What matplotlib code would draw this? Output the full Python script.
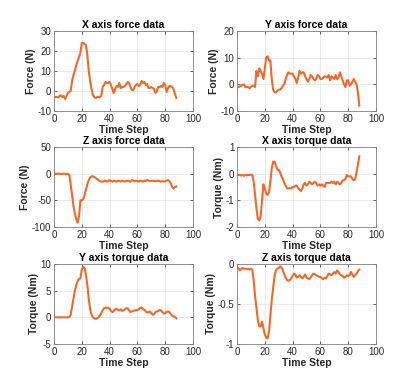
import matplotlib
matplotlib.use("Agg")
import matplotlib.pyplot as plt
import numpy as np

time_step = list(range(1, 89))

x_force = [-3, -3, -3.2, -2.5, -2.2, -3, -2.5, -4, -2.5, -1, -0.5, 0, 5, 8, 10, 13, 15, 17, 19, 24,
           24, 23.5, 23, 18, 10, 5, 1, -2, -3, -3.5, -3, -3, -3, -2.5, 2, 3, 4.5, 4, 4, 4.5,
           3, 1, -1, 1, 2.5, 2, 4, 1.5, 2, 2, 2.5, 3.5, 4.5, 4, 2, 0.5, 0.5, 2, 3, 3.5,
           2.5, 3, 5, 4, 4.5, 3, 3.5, 1.5, 1.5, 2, 1.5, 1, -1, 0, 2, 2, 2.5, 2, 4, 3,
           -0.5, 1.5, 2.5, 2.5, 2, 1, -1.5, -3.5]

y_force = [-1, -0.8, -0.5, -0.3, 0, -1, -1, -1, -1.5, -1, -0.5, -0.5, -1, 5, 3, 6, 5, 4, 2, 6,
           10, 10.5, 9, 9, 2, -2, -3, -3, -2.5, -2, -2, -1.5, -0.5, 0, 2, 3.5, 4.5, 4, 4, 4,
           3, 2, 0.5, 2.5, 5, 4, 4.5, 4.5, 3, 2, 1, 2, 3.5, 3, 2, 1.5, 2, 3.5, 3, 2,
           2, 2.5, 3, 3, 2.5, 3.5, 1.5, 3, 2.5, 2, 3.5, 2, 2.5, 4.5, 3, 1.5, 0, -1, 1.5, 1.5,
           -0.5, 0, 1, 2, 1, 0, -3, -8]

z_force = [0, 0, 0, 0, -0.5, -0.5, 0, -0.5, -0.5, -0.5, -2, -20, -40, -60, -75, -85, -92, -80, -50, -50,
           -48, -40, -30, -20, -12, -7, -5, -5, -6, -8, -10, -12, -14, -15, -15, -14, -13, -15, -14, -12,
           -14, -15, -13, -14, -15, -13, -14, -15, -13, -14, -15, -14, -13, -14, -15, -12, -13, -14, -13, -14,
           -15, -13, -14, -15, -13, -14, -12, -13, -14, -14, -13, -14, -14, -14, -13, -14, -15, -14, -15, -14,
           -13, -12, -14, -18, -25, -28, -25, -24]

x_torque = [-0.05, -0.05, -0.07, -0.05, -0.08, -0.05, -0.06, -0.05, -0.05, -0.03, -0.05, -0.3, -0.8, -1.3, -1.7, -1.75, -1.6, -1.0, -0.4, -0.55,
            -0.75, -0.8, -0.7, -0.3, 0.2, 0.45, 0.45, 0.3, 0.15, 0.15, 0.05, -0.1, -0.2, -0.35, -0.45, -0.55, -0.55, -0.55, -0.55, -0.5,
            -0.5, -0.45, -0.45, -0.55, -0.6, -0.65, -0.55, -0.4, -0.35, -0.45, -0.4, -0.3, -0.35, -0.4, -0.35, -0.3, -0.35, -0.45, -0.4, -0.45,
            -0.4, -0.45, -0.5, -0.35, -0.35, -0.35, -0.35, -0.3, -0.35, -0.3, -0.4, -0.3, -0.35, -0.4, -0.35, -0.25, -0.25, -0.2, -0.05, -0.1,
            -0.1, -0.1, -0.2, -0.25, -0.2, 0.05, 0.35, 0.65]

y_torque = [0, 0, 0, 0, 0, 0, 0, 0, 0, 0, 0, 0.5, 2, 3.5, 5, 6, 6.8, 7.2, 7.3, 9,
            9.5, 9.2, 8, 6, 3.5, 1.5, 0.5, 0, -0.2, -0.3, -0.2, 0, 0.3, 0.8, 1.3, 1.7, 1.8, 1.8, 1.8, 1.6,
            1.2, 1.0, 1.2, 1.5, 1.6, 1.4, 1.3, 1.5, 1.2, 1.3, 1.5, 1.7, 1.7, 1.3, 1.0, 1.1, 1.2, 1.3, 1.3, 1.4,
            1.5, 1.8, 1.8, 1.6, 1.4, 1.1, 0.9, 1.0, 1.1, 0.8, 0.5, 0.6, 1.0, 1.1, 1.2, 1.4, 1.3, 1.0, 0.7, 0.8,
            1.0, 1.1, 1.0, 0.6, 0.3, 0.2, 0.1, -0.2]

z_torque = [-0.05, -0.08, -0.06, -0.05, -0.06, -0.06, -0.06, -0.06, -0.07, -0.06, -0.07, -0.2, -0.4, -0.55, -0.7, -0.78, -0.78, -0.72, -0.8, -0.88,
            -0.92, -0.93, -0.85, -0.65, -0.45, -0.3, -0.15, -0.08, -0.06, -0.05, -0.03, -0.04, -0.08, -0.13, -0.17, -0.2, -0.21, -0.2, -0.18, -0.15,
            -0.12, -0.13, -0.17, -0.16, -0.14, -0.16, -0.18, -0.16, -0.13, -0.17, -0.18, -0.19, -0.17, -0.14, -0.12, -0.13, -0.14, -0.15, -0.16, -0.16,
            -0.18, -0.19, -0.17, -0.18, -0.15, -0.12, -0.13, -0.14, -0.12, -0.1, -0.12, -0.08, -0.1, -0.13, -0.14, -0.15, -0.17, -0.16, -0.14, -0.15,
            -0.14, -0.1, -0.13, -0.16, -0.14, -0.12, -0.09, -0.07]

titles = ["X axis force data", "Y axis force data", "Z axis force data",
          "X axis torque data", "Y axis torque data", "Z axis torque data"]
ylabels = ["Force (N)", "Force (N)", "Force (N)", "Torque (Nm)", "Torque (Nm)", "Torque (Nm)"]
series = [x_force, y_force, z_force, x_torque, y_torque, z_torque]
ylims = [(-10, 30), (-10, 20), (-100, 50), (-2, 1), (-5, 10), (-1, 0)]
yticks = [[-10, 0, 10, 20, 30], [-10, 0, 10, 20], [-100, -50, 0, 50],
          [-2, -1, 0, 1], [-5, 0, 5, 10], [-1, -0.5, 0]]
ytlabels = [["-10", "0", "10", "20", "30"], ["-10", "0", "10", "20"], ["-100", "-50", "0", "50"],
            ["-2", "-1", "0", "1"], ["-5", "0", "5", "10"], ["-1", "-0.5", "0"]]
xticks = [0, 20, 40, 60, 80, 100]

plt.rcParams['font.family'] = ['Liberation Sans', 'DejaVu Sans']
fig = plt.figure(figsize=(4.15, 3.89), dpi=100)

W, H = 415, 389
lefts = [54, 237]
tops = [31, 147, 264]
aw, ah = 139, 80
color = '#ee6a2c'
dark = '#262626'

for i in range(6):
    r, c = divmod(i, 2)
    ax = fig.add_axes([lefts[c] / W, 1 - (tops[r] + ah) / H, aw / W, ah / H])
    ax.plot(time_step, series[i], color=color, lw=1.5)
    ax.set_xlim(0, 100)
    ax.set_ylim(*ylims[i])
    ax.set_xticks(xticks)
    ax.set_xticklabels([str(t) for t in xticks])
    ax.set_yticks(yticks[i])
    ax.set_yticklabels(ytlabels[i])
    ax.grid(True, color='#e6e6e6', lw=0.6)
    ax.set_axisbelow(True)
    ax.tick_params(direction='in', length=2, width=0.5, labelsize=7, colors=dark,
                   top=True, right=True, pad=2)
    for s in ax.spines.values():
        s.set_color('#808080')
        s.set_linewidth(0.6)
    ax.set_title(titles[i], fontsize=7.5, fontweight='bold', color='black', pad=2)
    ax.set_xlabel("Time Step", fontsize=7.5, fontweight='bold', color=dark, labelpad=1)
    ax.set_ylabel(ylabels[i], fontsize=7.5, fontweight='bold', color=dark, labelpad=1)

fig.savefig("out.png", dpi=100, facecolor='white')
